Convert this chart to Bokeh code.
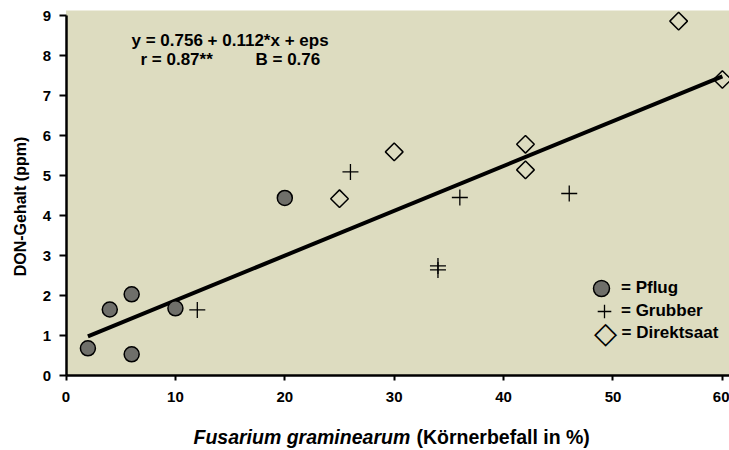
from bokeh.plotting import figure
from bokeh.models import Label, Legend, LegendItem, FixedTicker, BoxAnnotation
from bokeh.embed import file_html
from bokeh.resources import INLINE
import numpy as np

# ---- data ----
pflug_x = [2, 4, 6, 6, 10, 20]
pflug_y = [0.68, 1.65, 2.03, 0.53, 1.68, 4.44]

grubber_x = [12, 26, 34, 34, 36, 46]
grubber_y = [1.64, 5.09, 2.74, 2.64, 4.45, 4.55]

direkt_x = [25, 30, 42, 42, 56, 60]
direkt_y = [4.42, 5.59, 5.14, 5.78, 8.86, 7.40]

fit_x = [2, 60]
fit_y = [0.98, 7.48]

x_ticks = [0, 10, 20, 30, 40, 50, 60]
y_ticks = [0, 1, 2, 3, 4, 5, 6, 7, 8, 9]

eq_line1 = "y = 0.756 + 0.112*x + eps"
eq_r = "r = 0.87**"
eq_b = "B = 0.76"
legend_labels = ["= Pflug", "= Grubber", "= Direktsaat"]
x_title_italic = "Fusarium graminearum"
x_title_rest = "(Körnerbefall in %)"
y_title = "DON-Gehalt (ppm)"

FONT = "Liberation Sans"
BG = "#dddcc0"
X_END = 60.65
Y_TOP = 9.125

# the frame covers the whole canvas; both axes sit at the data origin
p = figure(width=729, height=450, x_range=(-5.99, X_END), y_range=(-1.875, 9.375),
           output_backend="svg", toolbar_location=None,
           min_border_left=0, min_border_right=0, min_border_top=0,
           min_border_bottom=0)
p.background_fill_color = "white"
p.border_fill_color = "white"
p.outline_line_color = None
p.grid.visible = False

# tan plotting area (x >= 0, 0 <= y <= Y_TOP)
p.add_layout(BoxAnnotation(left=0, bottom=0, top=Y_TOP, fill_color=BG, fill_alpha=1,
                           line_color=None, level="underlay"))

for ax in (p.xaxis[0], p.yaxis[0]):
    ax.axis_line_width = 2.5
    ax.axis_line_color = "black"
    ax.major_tick_line_width = 2
    ax.major_tick_line_color = "black"
    ax.major_tick_in = 0
    ax.minor_tick_line_color = None
    ax.major_label_text_font = FONT
    ax.major_label_text_font_style = "bold"
    ax.major_label_text_font_size = "15px"
    ax.major_label_text_color = "black"

p.xaxis.fixed_location = 0
p.yaxis.fixed_location = 0
p.xaxis.bounds = (0, X_END)
p.yaxis.bounds = (0, 9)
p.xaxis.ticker = FixedTicker(ticks=x_ticks)
p.yaxis.ticker = FixedTicker(ticks=y_ticks)
p.xaxis.major_tick_out = 5
p.yaxis.major_tick_out = 7
p.xaxis.major_label_standoff = 11
p.yaxis.major_label_standoff = 8

# regression line
p.line(fit_x, fit_y, line_width=4, line_color="black", line_cap="butt")

# data
r_pflug = p.scatter(pflug_x, pflug_y, marker="circle", size=15,
                    fill_color="#6f6f6a", line_color="black", line_width=1.5)
r_grub = p.scatter(grubber_x, grubber_y, marker="cross", size=16,
                   line_color="black", line_width=1.3)
r_dir = p.scatter(direkt_x, direkt_y, marker="square", size=12.5, angle=np.pi / 4,
                  fill_color=None, line_color="black", line_width=1.5)

leg_style = dict(padding=0, margin=0, spacing=0, label_standoff=0,
                 border_line_color=None, background_fill_alpha=0,
                 label_text_font=FONT, label_text_font_style="bold",
                 label_text_font_size="17px", label_text_color="black")

leg_a = Legend(items=[LegendItem(label=legend_labels[0], renderers=[r_pflug])],
               location=(581, 142), glyph_width=40, glyph_height=40, **leg_style)
leg_b = Legend(items=[LegendItem(label=legend_labels[1], renderers=[r_grub])],
               location=(587, 122), glyph_width=34, glyph_height=34, **leg_style)
p.add_layout(leg_a)
p.add_layout(leg_b)

# Direktsaat legend entry (white diamond symbol + text)
p.add_layout(Label(x=605, y=118, x_units="screen", y_units="screen", text="\u25c7",
                   text_font="DejaVu Sans", text_font_size="30px", text_color="black",
                   text_align="center", text_baseline="middle"))
p.add_layout(Label(x=621, y=118, x_units="screen", y_units="screen", text=legend_labels[2],
                   text_font=FONT, text_font_style="bold", text_font_size="17px",
                   text_color="black", text_baseline="middle"))

# equation text
common = dict(x_units="screen", y_units="screen", text_font=FONT,
              text_font_style="bold", text_font_size="17px",
              text_color="black", text_baseline="alphabetic")
p.add_layout(Label(x=131, y=410, text=eq_line1, **common))
p.add_layout(Label(x=140, y=391, text=eq_r, **common))
p.add_layout(Label(x=255, y=391, text=eq_b, **common))

# y axis title (rotated)
p.add_layout(Label(x=20, y=244, x_units="screen", y_units="screen", text=y_title,
                   angle=np.pi / 2, text_font=FONT, text_font_style="bold",
                   text_font_size="16px", text_color="black",
                   text_align="center", text_baseline="middle"))

# x axis title (mixed italic / normal)
xt = dict(x_units="screen", y_units="screen", text_font=FONT,
          text_font_size="19.5px", text_color="black", text_baseline="alphabetic")
p.add_layout(Label(x=193, y=14, text=x_title_italic, text_font_style="bold italic", **xt))
p.add_layout(Label(x=416, y=14, text=x_title_rest, text_font_style="bold", **xt))

open("out.html", "w").write(file_html(p, INLINE))
